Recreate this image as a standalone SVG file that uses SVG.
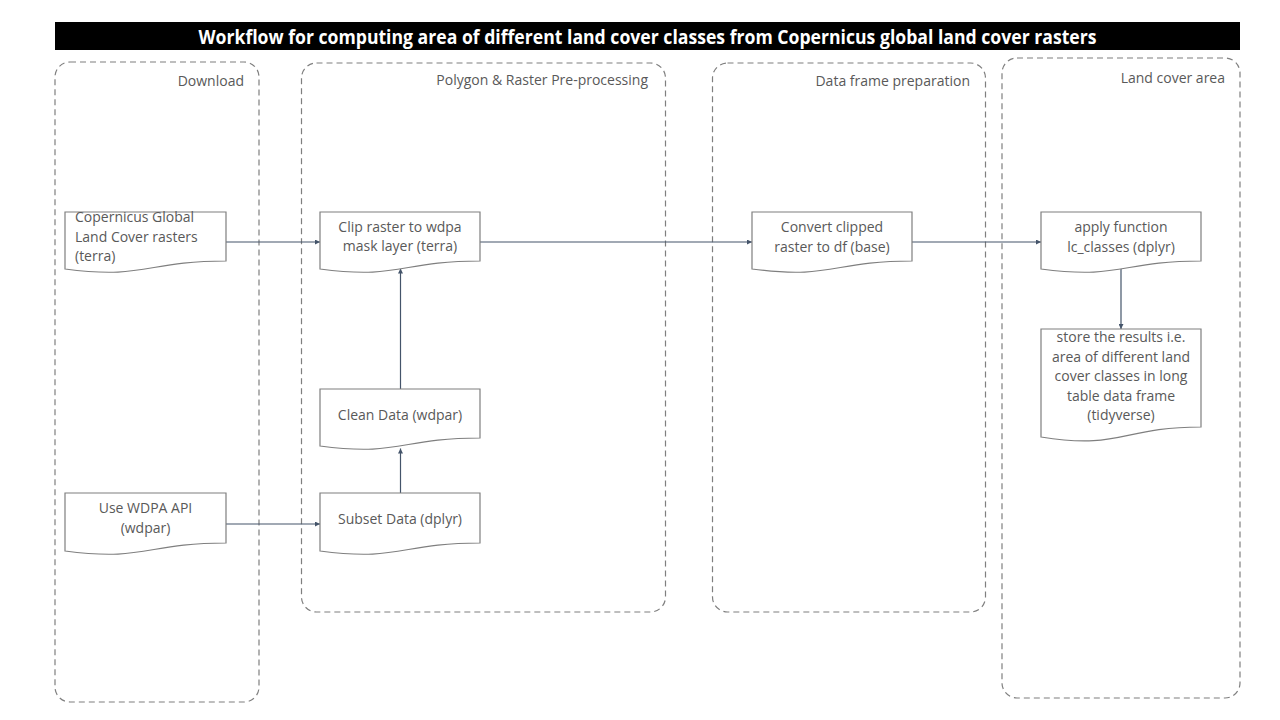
<svg xmlns="http://www.w3.org/2000/svg" width="1280" height="720" viewBox="0 0 1280 720">
<style>
.lane{fill:none;stroke:#7f7f7f;stroke-width:1.2;stroke-dasharray:6 4}
.lbl{font-family:"Open Sans","Liberation Sans",sans-serif;font-size:14px;fill:#595959;text-anchor:end}
.doc{fill:#fff;stroke:#7f7f7f;stroke-width:1.2}
.t{font-family:"Open Sans","Liberation Sans",sans-serif;font-size:14px;fill:#595959;text-anchor:middle}
.tl{text-anchor:start}
.edge{fill:none;stroke:#44546a;stroke-width:1.2;marker-end:url(#ah)}
</style>
<defs>
<marker id="ah" viewBox="0 0 10 10" refX="10" refY="5" markerWidth="6" markerHeight="5" orient="auto" markerUnits="userSpaceOnUse">
<path d="M0,0 L10,5 L0,10 Z" fill="#44546a"/>
</marker>
</defs>
<rect width="1280" height="720" fill="#fff"/>
<g id="title">
<rect x="55" y="22" width="1185" height="28" fill="#000"/>
<text x="647.5" y="43.5" font-family="'Open Sans','Liberation Sans',sans-serif" font-size="19" font-weight="bold" fill="#fff" text-anchor="middle" textLength="898" lengthAdjust="spacingAndGlyphs">Workflow for computing area of different land cover classes from Copernicus global land cover rasters</text>
</g>
<g id="lane-download">
<rect class="lane" x="55" y="62" width="204" height="640" rx="15"/>
<text class="lbl" x="244" y="86">Download</text>
</g>
<g id="lane-preprocessing">
<rect class="lane" x="301.5" y="63" width="364" height="549" rx="15"/>
<text class="lbl" x="648" y="85">Polygon &amp; Raster Pre-processing</text>
</g>
<g id="lane-dataframe">
<rect class="lane" x="712.5" y="63" width="273" height="549" rx="15"/>
<text class="lbl" x="970" y="86">Data frame preparation</text>
</g>
<g id="lane-landcover">
<rect class="lane" x="1002" y="58" width="238" height="640" rx="15"/>
<text class="lbl" x="1225" y="83">Land cover area</text>
</g>
<g id="connectors">
<line class="edge" x1="226" y1="242" x2="320" y2="242"/>
<line class="edge" x1="226" y1="524" x2="320" y2="524"/>
<line class="edge" x1="400.5" y1="493" x2="400.5" y2="448.5"/>
<line class="edge" x1="400.5" y1="389" x2="400.5" y2="268.5"/>
<line class="edge" x1="480" y1="242" x2="752" y2="242"/>
<line class="edge" x1="912" y1="242" x2="1041" y2="242"/>
<line class="edge" x1="1121" y1="268" x2="1121" y2="329"/>
</g>
<g id="node-copernicus">
<path class="doc" d="M65,212 H226 V261 C145.5,261 145.5,279.6 65,269 Z"/>
<text class="t tl" x="75" y="222">Copernicus Global</text>
<text class="t tl" x="75" y="241.5">Land Cover rasters</text>
<text class="t tl" x="75" y="261">(terra)</text>
</g>
<g id="node-wdpa-api">
<path class="doc" d="M65,493 H226 V543 C145.5,543 145.5,561.6 65,551 Z"/>
<text class="t" x="145.5" y="513">Use WDPA API</text>
<text class="t" x="145.5" y="532.5">(wdpar)</text>
</g>
<g id="node-clip">
<path class="doc" d="M320,212 H480 V261 C400,261 400,279.6 320,269 Z"/>
<text class="t" x="400" y="231.5">Clip raster to wdpa</text>
<text class="t" x="400" y="251">mask layer (terra)</text>
</g>
<g id="node-clean">
<path class="doc" d="M320,389 H480 V438 C400,438 400,456.6 320,446 Z"/>
<text class="t" x="400" y="420">Clean Data (wdpar)</text>
</g>
<g id="node-subset">
<path class="doc" d="M320,493 H480 V543 C400,543 400,561.6 320,551 Z"/>
<text class="t" x="400" y="524">Subset Data (dplyr)</text>
</g>
<g id="node-convert">
<path class="doc" d="M752,212 H912 V261 C832,261 832,279.6 752,269 Z"/>
<text class="t" x="832" y="232">Convert clipped</text>
<text class="t" x="832" y="251.5">raster to df (base)</text>
</g>
<g id="node-apply">
<path class="doc" d="M1041,212 H1201 V261 C1121,261 1121,279.6 1041,269 Z"/>
<text class="t" x="1121" y="231.5">apply function</text>
<text class="t" x="1121" y="251.5">lc_classes (dplyr)</text>
</g>
<g id="node-store">
<path class="doc" d="M1041,329 H1201 V427 C1121,427 1121,450 1041,437 Z"/>
<text class="t" x="1121" y="342">store the results i.e.</text>
<text class="t" x="1121" y="361.5">area of different land</text>
<text class="t" x="1121" y="381">cover classes in long</text>
<text class="t" x="1121" y="400.5">table data frame</text>
<text class="t" x="1121" y="420">(tidyverse)</text>
</g>
</svg>
